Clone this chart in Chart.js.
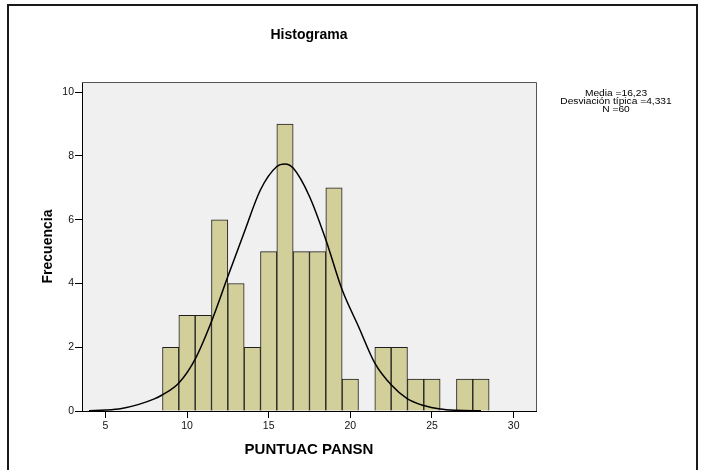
<!DOCTYPE html>
<html lang="es">
<head>
<meta charset="utf-8">
<title>Histograma</title>
<script src="https://cdn.jsdelivr.net/npm/chart.js@4.4.1/dist/chart.umd.min.js"></script>
<style>
  html, body { margin: 0; padding: 0; background: #fff; }
  canvas { display: block; }
</style>
</head>
<body>
<canvas id="histChart" width="703" height="470"></canvas>
<script>
// --- datos del histograma (intervalos de ancho 1, marcados por su centro) ---
const binCenters = [9, 10, 11, 12, 13, 14, 15, 16, 17, 18, 19, 20, 21, 22, 23, 24, 25, 26, 27, 28];
const frequencies = [2, 3, 3, 6, 4, 2, 5, 9, 5, 5, 7, 1, 0, 2, 2, 1, 1, 0, 1, 1];

// curva normal superpuesta
const curveX = [4, 5, 6, 7, 8, 8.5, 9.5, 10.5, 11.5, 12.5, 13.5, 14.5, 15.5, 16, 16.5, 17.5, 18.5, 19.5, 20.5, 21.5, 22.5, 23.5, 24.5, 25.5, 26.5, 28];
const curveY = [0.01, 0.03, 0.08, 0.2, 0.38, 0.51, 0.88, 1.63, 2.81, 4.22, 5.6, 6.94, 7.67, 7.75, 7.62, 6.73, 5.37, 3.8, 2.65, 1.5, 0.82, 0.38, 0.17, 0.06, 0.02, 0.005];

const xTicks = [5, 10, 15, 20, 25, 30];
const yTicks = [0, 2, 4, 6, 8, 10];
const statsLines = ['Media =16,23', 'Desviación típica =4,331', 'N =60'];

const FONT = '"Liberation Sans", Arial, sans-serif';

// fondo gris del área de datos, marco exterior, título y cuadro de estadísticos
const frame = {
    id: 'frame',
    beforeDraw(chart) {
        const { ctx, chartArea: a } = chart;
        ctx.save();
        ctx.fillStyle = '#ffffff';
        ctx.fillRect(0, 0, chart.width, chart.height);
        ctx.fillStyle = '#f0f0f0';
        ctx.fillRect(a.left, a.top, a.right - a.left, a.bottom - a.top);
        ctx.restore();
    },
    afterDraw(chart) {
        const { ctx, chartArea: a } = chart;
        ctx.save();

        // borde superior y derecho del área de datos
        ctx.strokeStyle = '#555555';
        ctx.lineWidth = 1;
        ctx.beginPath();
        ctx.moveTo(a.left, a.top + 0.5);
        ctx.lineTo(a.right + 0.5, a.top + 0.5);
        ctx.lineTo(a.right + 0.5, a.bottom);
        ctx.stroke();

        // marco exterior
        ctx.strokeStyle = '#1a1a1a';
        ctx.lineWidth = 2;
        ctx.strokeRect(8, 5, 689, 480);

        // título
        ctx.fillStyle = '#000';
        ctx.textAlign = 'center';
        ctx.textBaseline = 'middle';
        ctx.font = 'bold 14px ' + FONT;
        ctx.fillText('Histograma', (a.left + a.right) / 2, 35);

        // estadísticos (texto algo ensanchado, como en la salida original)
        ctx.font = '8.5px ' + FONT;
        ctx.translate(616, 0);
        ctx.scale(1.2, 1);
        statsLines.forEach((line, i) => {
            ctx.fillText(line, 0, 94 + i * 7.6);
        });
        ctx.restore();
    }
};

const ctx = document.getElementById('histChart');

new Chart(ctx, {
    type: 'bar',
    data: {
        datasets: [
            {
                type: 'line',
                data: curveX.map((x, i) => ({ x: x, y: curveY[i] })),
                borderColor: '#000000',
                borderWidth: 1.5,
                pointRadius: 0,
                fill: false,
                tension: 0.4,
                cubicInterpolationMode: 'monotone',
                order: 0
            },
            {
                type: 'bar',
                data: binCenters.map((x, i) => ({ x: x, y: frequencies[i] })),
                backgroundColor: '#d3cf9b',
                borderColor: '#1e1e1e',
                borderWidth: 1,
                barPercentage: 1,
                categoryPercentage: 1,
                grouped: false,
                order: 1
            }
        ]
    },
    options: {
        responsive: false,
        animation: false,
        devicePixelRatio: 1,
        layout: {
            padding: { top: 82, right: 167, bottom: 0, left: 0 }
        },
        plugins: {
            legend: { display: false },
            tooltip: { enabled: false }
        },
        scales: {
            x: {
                type: 'linear',
                min: 3.57,
                max: 31.37,
                offset: false,
                afterFit(scale) { scale.height = 59; },
                afterBuildTicks(scale) { scale.ticks = xTicks.map(v => ({ value: v })); },
                grid: { drawOnChartArea: false, tickLength: 7, color: '#000', offset: false },
                border: { display: true, color: '#000', width: 1 },
                ticks: {
                    padding: 2,
                    color: '#111',
                    font: { family: FONT, size: 10.5 },
                    maxRotation: 0
                },
                title: {
                    display: true,
                    text: 'PUNTUAC PANSN',
                    color: '#000',
                    font: { family: FONT, size: 15, weight: 'bold' },
                    padding: { top: 0, bottom: 11 }
                }
            },
            y: {
                min: 0,
                max: 10.32,
                afterFit(scale) { scale.width = 82; },
                afterBuildTicks(scale) { scale.ticks = yTicks.map(v => ({ value: v })); },
                grid: { drawOnChartArea: false, tickLength: 7, color: '#000' },
                border: { display: true, color: '#000', width: 1 },
                ticks: {
                    padding: 1,
                    color: '#111',
                    font: { family: FONT, size: 10.5 }
                },
                title: {
                    display: true,
                    text: 'Frecuencia',
                    color: '#000',
                    font: { family: FONT, size: 14, weight: 'bold' },
                    padding: { top: 40, bottom: 0 }
                }
            }
        }
    },
    plugins: [frame]
});
</script>
</body>
</html>
